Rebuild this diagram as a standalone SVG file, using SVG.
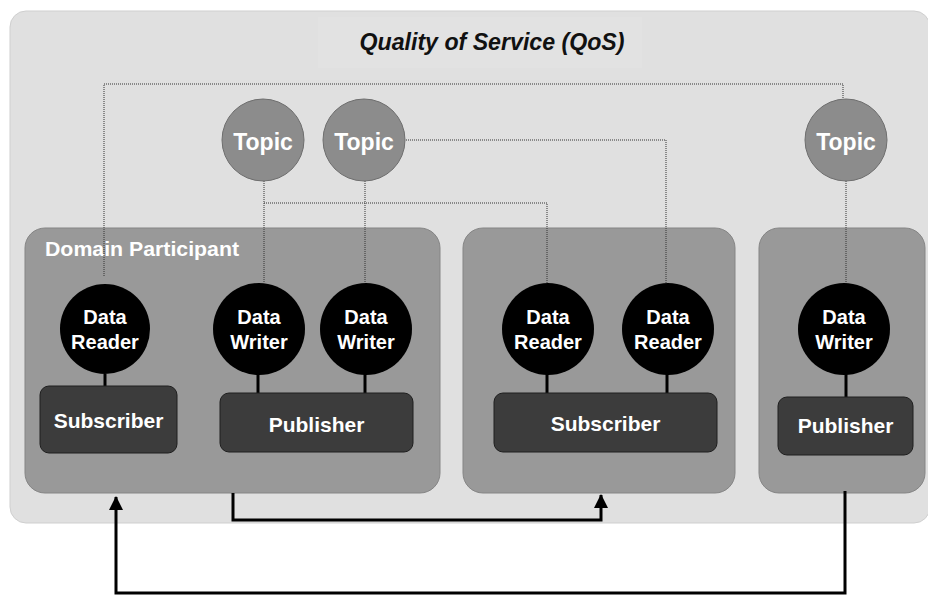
<svg xmlns="http://www.w3.org/2000/svg" width="928" height="596" viewBox="0 0 928 596">
<defs>
<style>
.t{font-family:"Liberation Sans",Arial,sans-serif;font-weight:bold;fill:#fff;text-anchor:middle}
.topic{fill:#8c8c8c;stroke:#6e6e6e;stroke-width:1}
.ep{fill:#000}
.box{fill:#999;stroke:#858585;stroke-width:1}
.dark{fill:#3c3c3c;stroke:#1e1e1e;stroke-width:1}
.dot{fill:none;stroke:#333;stroke-width:1;stroke-dasharray:1 1}
.link{fill:none;stroke:#000;stroke-width:3}
.flow{fill:none;stroke:#000;stroke-width:3}
</style>
<marker id="arr" markerUnits="userSpaceOnUse" markerWidth="14" markerHeight="14" viewBox="0 0 14 14" refX="13" refY="7" orient="auto">
<path d="M0,0 L14,7 L0,14 Z" fill="#000"/>
</marker>
</defs>
<rect x="0" y="0" width="928" height="596" fill="#fff"/>
<g id="qos">
<rect x="10" y="11" width="920" height="512" rx="16" fill="#e0e0e0" stroke="#cfcfcf" stroke-width="1"/>
<rect x="318" y="17" width="324" height="51" fill="#e2e2e2"/>
<text x="492" y="50" font-family="'Liberation Sans',Arial,sans-serif" font-weight="bold" font-style="italic" font-size="23" fill="#111" text-anchor="middle" textLength="265" lengthAdjust="spacingAndGlyphs">Quality of Service (QoS)</text>
</g>
<g id="participant1">
<rect class="box" x="25" y="228" width="415" height="265" rx="20"/>
<text x="45" y="256" font-family="'Liberation Sans',Arial,sans-serif" font-weight="bold" font-size="20" fill="#fff" textLength="194" lengthAdjust="spacingAndGlyphs">Domain Participant</text>
</g>
<g id="participant2"><rect class="box" x="463" y="228" width="272" height="265" rx="20"/></g>
<g id="participant3"><rect class="box" x="759" y="228" width="166" height="265" rx="20"/></g>
<g id="connectors">
<path class="dot" d="M104,276 V84 H843 V99"/>
<path class="dot" d="M406,140 H666 V284"/>
<path class="dot" d="M264,181 V283"/>
<path class="dot" d="M264,203 H547 V284"/>
<path class="dot" d="M365,181 V283"/>
<path class="dot" d="M846,181 V284"/>
<path class="link" d="M105,374 V386"/>
<path class="link" d="M258,374 V393"/>
<path class="link" d="M365,374 V393"/>
<path class="link" d="M547,374 V393"/>
<path class="link" d="M667,374 V393"/>
<path class="link" d="M846,374 V397"/>
<path class="flow" d="M233,493 V520 H601 V495" marker-end="url(#arr)"/>
<path class="flow" d="M845,491 V593 H116 V497" marker-end="url(#arr)"/>
</g>
<g id="topic1"><circle class="topic" cx="263" cy="140" r="41"/><text class="t" x="263" y="150" font-size="23">Topic</text></g>
<g id="topic2"><circle class="topic" cx="364" cy="140" r="41"/><text class="t" x="364" y="150" font-size="23">Topic</text></g>
<g id="topic3"><circle class="topic" cx="846" cy="140" r="41"/><text class="t" x="846" y="150" font-size="23">Topic</text></g>
<g id="reader1"><circle class="ep" cx="105" cy="329" r="45"/><text class="t" x="105" y="324" font-size="20">Data</text><text class="t" x="105" y="349" font-size="20">Reader</text></g>
<g id="writer1"><circle class="ep" cx="259" cy="329" r="46"/><text class="t" x="259" y="324" font-size="20">Data</text><text class="t" x="259" y="349" font-size="20">Writer</text></g>
<g id="writer2"><circle class="ep" cx="366" cy="329" r="46"/><text class="t" x="366" y="324" font-size="20">Data</text><text class="t" x="366" y="349" font-size="20">Writer</text></g>
<g id="reader2"><circle class="ep" cx="548" cy="329" r="46"/><text class="t" x="548" y="324" font-size="20">Data</text><text class="t" x="548" y="349" font-size="20">Reader</text></g>
<g id="reader3"><circle class="ep" cx="668" cy="329" r="46"/><text class="t" x="668" y="324" font-size="20">Data</text><text class="t" x="668" y="349" font-size="20">Reader</text></g>
<g id="writer3"><circle class="ep" cx="844" cy="329" r="46"/><text class="t" x="844" y="324" font-size="20">Data</text><text class="t" x="844" y="349" font-size="20">Writer</text></g>
<g id="subscriber1"><rect class="dark" x="40" y="386" width="137" height="67" rx="9"/><text class="t" x="108.5" y="428" font-size="21">Subscriber</text></g>
<g id="publisher1"><rect class="dark" x="220" y="393" width="193" height="59" rx="9"/><text class="t" x="316.5" y="432" font-size="21">Publisher</text></g>
<g id="subscriber2"><rect class="dark" x="494" y="393" width="223" height="59" rx="9"/><text class="t" x="605.5" y="431" font-size="21">Subscriber</text></g>
<g id="publisher3"><rect class="dark" x="778" y="397" width="135" height="58" rx="9"/><text class="t" x="845.5" y="433" font-size="21">Publisher</text></g>
</svg>
